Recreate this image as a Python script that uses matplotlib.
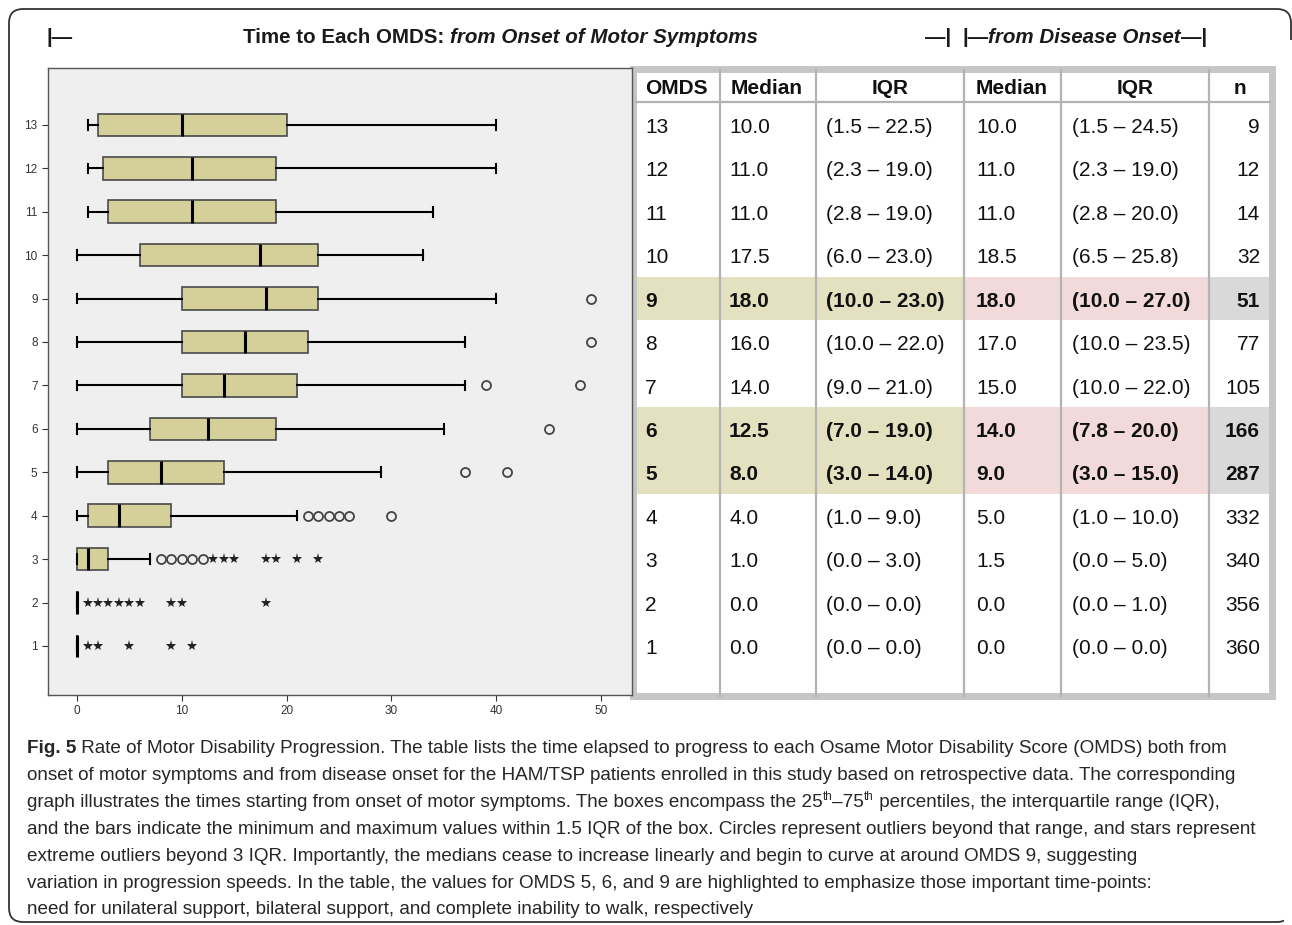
import matplotlib
matplotlib.use("Agg")
import matplotlib.pyplot as plt
from matplotlib.patches import Rectangle, FancyBboxPatch

# ---- boxplot data (years from onset of motor symptoms) ----
omds_levels = [1, 2, 3, 4, 5, 6, 7, 8, 9, 10, 11, 12, 13]
whisker_lo = [0, 0, 0, 0, 0, 0, 0, 0, 0, 0, 1, 1, 1]
quart_1 = [0, 0, 0, 1, 3, 7, 10, 10, 10, 6, 3, 2.5, 2]
medians = [0, 0, 1, 4, 8, 12.5, 14, 16, 18, 17.5, 11, 11, 10]
quart_3 = [0, 0, 3, 9, 14, 19, 21, 22, 23, 23, 19, 19, 20]
whisker_hi = [0, 0, 7, 21, 29, 35, 37, 37, 40, 33, 34, 40, 40]
outliers_circle = {3: [8, 9, 10, 11, 12], 4: [22, 23, 24, 25, 26, 30],
                   5: [37, 41], 6: [45], 7: [39, 48], 8: [49], 9: [49]}
outliers_star = {1: [1, 2, 5, 9, 11], 2: [1, 2, 3, 4, 5, 6, 9, 10, 18],
                 3: [13, 14, 15, 18, 19, 21, 23]}

# ---- table data ----
tbl_omds = ["13", "12", "11", "10", "9", "8", "7", "6", "5", "4", "3", "2", "1"]
tbl_med_motor = ["10.0", "11.0", "11.0", "17.5", "18.0", "16.0", "14.0", "12.5", "8.0", "4.0", "1.0", "0.0", "0.0"]
tbl_iqr_motor = ["(1.5 – 22.5)", "(2.3 – 19.0)", "(2.8 – 19.0)", "(6.0 – 23.0)", "(10.0 – 23.0)",
                 "(10.0 – 22.0)", "(9.0 – 21.0)", "(7.0 – 19.0)", "(3.0 – 14.0)", "(1.0 – 9.0)",
                 "(0.0 – 3.0)", "(0.0 – 0.0)", "(0.0 – 0.0)"]
tbl_med_onset = ["10.0", "11.0", "11.0", "18.5", "18.0", "17.0", "15.0", "14.0", "9.0", "5.0", "1.5", "0.0", "0.0"]
tbl_iqr_onset = ["(1.5 – 24.5)", "(2.3 – 19.0)", "(2.8 – 20.0)", "(6.5 – 25.8)", "(10.0 – 27.0)",
                 "(10.0 – 23.5)", "(10.0 – 22.0)", "(7.8 – 20.0)", "(3.0 – 15.0)", "(1.0 – 10.0)",
                 "(0.0 – 5.0)", "(0.0 – 1.0)", "(0.0 – 0.0)"]
tbl_n = ["9", "12", "14", "32", "51", "77", "105", "166", "287", "332", "340", "356", "360"]
highlight_rows = ["9", "6", "5"]
headers = ["OMDS", "Median", "IQR", "Median", "IQR", "n"]

caption_lines = [
    " Rate of Motor Disability Progression. The table lists the time elapsed to progress to each Osame Motor Disability Score (OMDS) both from",
    "onset of motor symptoms and from disease onset for the HAM/TSP patients enrolled in this study based on retrospective data. The corresponding",
    None,
    "and the bars indicate the minimum and maximum values within 1.5 IQR of the box. Circles represent outliers beyond that range, and stars represent",
    "extreme outliers beyond 3 IQR. Importantly, the medians cease to increase linearly and begin to curve at around OMDS 9, suggesting",
    "variation in progression speeds. In the table, the values for OMDS 5, 6, and 9 are highlighted to emphasize those important time-points:",
    "need for unilateral support, bilateral support, and complete inability to walk, respectively",
]

SANS = ["Liberation Sans", "DejaVu Sans"]

W, H = 1292, 925
fig = plt.figure(figsize=(W / 100, H / 100), dpi=100)
fig.patch.set_facecolor("white")

# full-figure canvas in pixel coordinates
cv = fig.add_axes([0, 0, 1, 1])
cv.set_xlim(0, W)
cv.set_ylim(H, 0)
cv.axis("off")
cv.patch.set_visible(False)

renderer = fig.canvas.get_renderer()


def runs(x, y, parts, size, color="#1a1a1a", draw=True):
    # place text pieces one after another on a baseline; returns end x
    for p in parts:
        s = p[0]
        weight = p[1] if len(p) > 1 else "normal"
        style = p[2] if len(p) > 2 else "normal"
        sz = p[3] * size if len(p) > 3 else size
        dy = p[4] * size if len(p) > 4 else 0
        t = cv.text(x, y - dy, s, fontsize=sz, fontweight=weight, fontstyle=style,
                    family=SANS, ha="left", va="baseline", color=color)
        x += t.get_window_extent(renderer).width
        if not draw:
            t.remove()
    return x


def fit_size(parts, width, start=12.0):
    w = runs(0, 0, parts, start, draw=False)
    return start * width / w


# outer rounded frame: right edge shows only near the top-right corner
for clip in [(0, 0, 1284, H), (1284, 0, 20, 40)]:
    fr = FancyBboxPatch((9, 9), 1282, 913, boxstyle="round,pad=0,rounding_size=14",
                        fill=False, ec="#333333", lw=1.3)
    cv.add_patch(fr)
    fr.set_clip_path(Rectangle(clip[:2], clip[2], clip[3], transform=cv.transData))

# title line
title_parts = [("Time to Each OMDS: ", "bold"), ("from Onset of Motor Symptoms", "bold", "italic")]
ts = fit_size(title_parts, 512)
runs(47, 43, [("|—", "bold")], ts)
runs(243, 43, title_parts, ts)
right_parts = [("|—", "bold"), ("from Disease Onset", "bold", "italic"), ("—|", "bold")]
rs = min(fit_size(right_parts, 250), ts)
runs(925, 43, [("—|", "bold")], ts)
runs(962, 43, right_parts, rs)

# caption
line1 = [("Fig. 5", "bold"), (caption_lines[0],)]
cs = min(fit_size(line1, 1238), fit_size([(caption_lines[3],)], 1232))
cy = [753, 780, 807, 834, 861, 888, 914]
ccol = "#262626"
runs(27, cy[0], line1, cs, color=ccol)
runs(27, cy[1], [(caption_lines[1],)], cs, color=ccol)
runs(27, cy[2], [("graph illustrates the times starting from onset of motor symptoms. The boxes encompass the 25",),
                 ("th", "normal", "normal", 0.62, 0.55), ("–75",), ("th", "normal", "normal", 0.62, 0.55),
                 (" percentiles, the interquartile range (IQR),",)], cs, color=ccol)
for i in range(3, 7):
    runs(27, cy[i], [(caption_lines[i],)], cs, color=ccol)

# ---- table ----
col_x = [636, 720, 816, 964, 1061, 1209, 1270]
row_c = {lab: 125 + i * 43.42 for i, lab in enumerate(tbl_omds)}
rh = 43.42
for lab in highlight_rows:
    yc = row_c[lab]
    cv.add_patch(Rectangle((col_x[0], yc - rh / 2), col_x[3] - col_x[0], rh, fc="#e3e1bf", ec="none"))
    cv.add_patch(Rectangle((col_x[3], yc - rh / 2), col_x[5] - col_x[3], rh, fc="#f2dadb", ec="none"))
    cv.add_patch(Rectangle((col_x[5], yc - rh / 2), col_x[6] - col_x[5], rh, fc="#d9d9d9", ec="none"))
for xv in col_x[1:-1]:
    cv.plot([xv, xv], [70, 696], color="#b3b3b3", lw=1.6)
cv.plot([col_x[0], col_x[-1]], [102, 102], color="#b3b3b3", lw=1.6)
cv.add_patch(Rectangle((633, 69), 639, 627, fill=False, ec="#c6c6c6", lw=5))

fs = 15
hy = 94
hkw = dict(fontsize=fs, fontweight="bold", family=SANS, va="baseline", color="#111111")
cv.text(645, hy, headers[0], **hkw)
cv.text(731, hy, headers[1], **hkw)
cv.text(890, hy, headers[2], ha="center", **hkw)
cv.text(976, hy, headers[3], **hkw)
cv.text(1135, hy, headers[4], ha="center", **hkw)
cv.text(1240, hy, headers[5], ha="center", **hkw)

for i, lab in enumerate(tbl_omds):
    yb = row_c[lab] + 8
    w = "bold" if lab in highlight_rows else "normal"
    kw = dict(fontsize=fs, fontweight=w, family=SANS, va="baseline", color="#111111")
    cv.text(645, yb, lab, **kw)
    cv.text(729, yb, tbl_med_motor[i], **kw)
    cv.text(826, yb, tbl_iqr_motor[i], **kw)
    cv.text(976, yb, tbl_med_onset[i], **kw)
    cv.text(1072, yb, tbl_iqr_onset[i], **kw)
    cv.text(1260, yb, tbl_n[i], ha="right", **kw)

# ---- boxplot ----
ax = fig.add_axes([48 / W, 1 - 695 / H, (632 - 48) / W, (695 - 68) / H])
ax.set_facecolor("#efefef")
stats = []
for i, k in enumerate(omds_levels):
    stats.append(dict(med=medians[i], q1=quart_1[i], q3=quart_3[i],
                      whislo=whisker_lo[i], whishi=whisker_hi[i], fliers=[]))
ax.bxp(stats, positions=omds_levels, widths=0.52, capwidths=0.22, orientation="horizontal",
       patch_artist=True, showfliers=False,
       boxprops=dict(facecolor="#d5d09a", edgecolor="#4a4a4a", linewidth=1.2),
       medianprops=dict(color="black", linewidth=2.2),
       whiskerprops=dict(color="black", linewidth=1.5),
       capprops=dict(color="black", linewidth=1.5))
for k, vals in outliers_circle.items():
    ax.plot(vals, [k] * len(vals), linestyle="none", marker="o", ms=6.5,
            mfc="none", mec="#444444", mew=1.3)
for k, vals in outliers_star.items():
    ax.plot(vals, [k] * len(vals), linestyle="none", marker="*", ms=8,
            color="#222222", mew=0)

ax.set_xlim(-2.77, 52.96)
ax.set_ylim(-0.13, 14.31)
ax.set_xticks([0, 10, 20, 30, 40, 50])
ax.set_yticks(omds_levels)
ax.tick_params(labelsize=8.5, length=4, color="#333333", labelcolor="#333333")
for lbl in ax.get_xticklabels() + ax.get_yticklabels():
    lbl.set_family(SANS)
for sp in ax.spines.values():
    sp.set_color("#555555")
    sp.set_linewidth(1.0)

fig.savefig("out.png", dpi=100)
